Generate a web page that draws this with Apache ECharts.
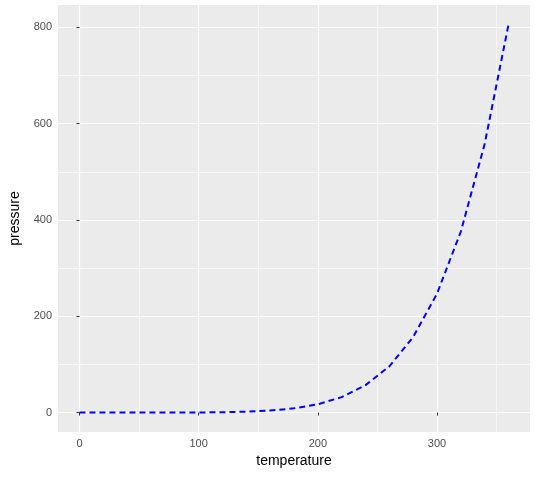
<!DOCTYPE html>
<html><head><meta charset="utf-8">
<script src="https://cdn.jsdelivr.net/npm/echarts@6/dist/echarts.min.js"></script>
<style>html,body{margin:0;padding:0;background:#fff}#c{width:538px;height:477px}</style>
</head><body><div id="c"></div>
<script>
const temperature = [0,20,40,60,80,100,120,140,160,180,200,220,240,260,280,300,320,340,360];
const pressure = [0.0002,0.0012,0.006,0.03,0.09,0.27,0.75,1.85,4.2,8.8,17.3,32.1,57,96,157,247,376,558,806];
const xTicks = [0,100,200,300];
const xMinor = [50,150,250,350];
const yTicks = [0,200,400,600,800];
const yMinor = [100,300,500,700];

const grid = [];
xMinor.forEach(v=>grid.push({xAxis:v,lineStyle:{width:0.6}}));
yMinor.forEach(v=>grid.push({yAxis:v,lineStyle:{width:0.6}}));
xTicks.forEach(v=>grid.push({xAxis:v,lineStyle:{width:1.2}}));
yTicks.forEach(v=>grid.push({yAxis:v,lineStyle:{width:1.2}}));

const chart = echarts.init(document.getElementById('c'));
chart.setOption({
  animation:false,
  grid:{left:52,right:8,top:5,bottom:45,show:true,backgroundColor:'#EBEBEB',borderWidth:0},
  xAxis:{type:'value',min:-18,max:378,splitLine:{show:false},
    axisLine:{show:false},
    axisTick:{show:true,customValues:xTicks,length:3,lineStyle:{color:'#333'}},
    axisLabel:{customValues:xTicks,color:'#4D4D4D',fontSize:11,fontFamily:'Liberation Sans',margin:6},
    name:'temperature',nameLocation:'middle',nameGap:22,
    nameTextStyle:{color:'#000',fontSize:14,fontFamily:'Liberation Sans'}},
  yAxis:{type:'value',min:-40.3,max:846.3,splitLine:{show:false},
    axisLine:{show:false},
    axisTick:{show:true,customValues:yTicks,length:3,lineStyle:{color:'#333'}},
    axisLabel:{customValues:yTicks,color:'#4D4D4D',fontSize:11,fontFamily:'Liberation Sans',margin:6},
    name:'pressure',nameLocation:'middle',nameGap:36,
    nameTextStyle:{color:'#000',fontSize:14,fontFamily:'Liberation Sans'}},
  series:[{type:'line',data:temperature.map((t,i)=>[t,pressure[i]]),showSymbol:false,
    lineStyle:{color:'#0000FF',width:2,type:[6,4]},
    markLine:{silent:true,symbol:'none',label:{show:false},z:0,
      lineStyle:{color:'#FFFFFF',type:'solid'},data:grid}}]
});
</script></body></html>
